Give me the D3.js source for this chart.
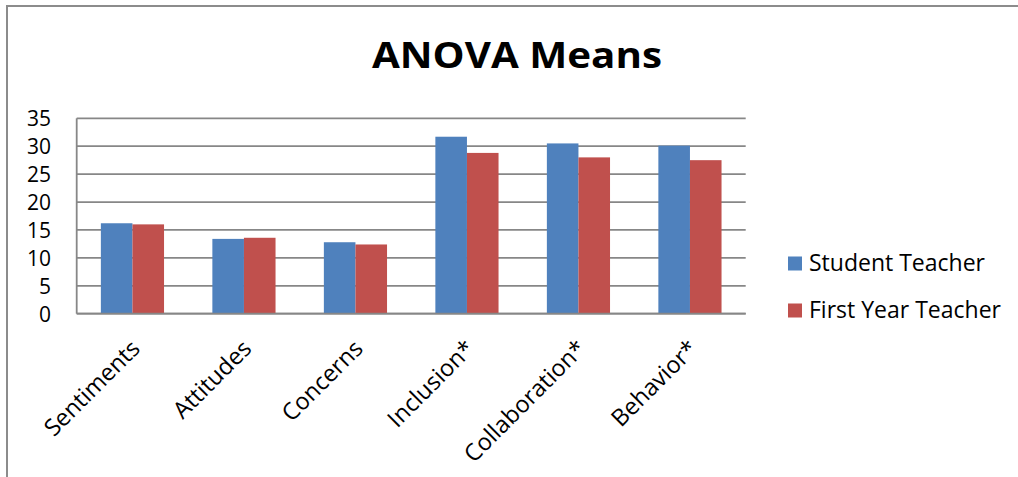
<!DOCTYPE html>
<html>
<head>
<meta charset="utf-8">
<script src="https://cdn.jsdelivr.net/npm/d3@7"></script>
<style>
  html, body { margin: 0; padding: 0; background: #fff; }
  svg { display: block; }
  text { font-family: "Open Sans", "Noto Sans", sans-serif; fill: #000; }
</style>
</head>
<body>
<svg id="chart" width="1018" height="477"></svg>
<script>
// Group means per scale
const categories = ["Sentiments", "Attitudes", "Concerns", "Inclusion*", "Collaboration*", "Behavior*"];
const seriesNames = ["Student Teacher", "First Year Teacher"];
const studentTeacher = [16.2, 13.4, 12.8, 31.7, 30.5, 30.1];
const firstYearTeacher = [16.0, 13.6, 12.4, 28.8, 28.0, 27.5];
const yTicks = [0, 5, 10, 15, 20, 25, 30, 35];
const colors = ["#4F81BD", "#C0504D"];

const series = [studentTeacher, firstYearTeacher];

const svg = d3.select("#chart");

// outer frame (runs off the right and bottom edges)
svg.append("path")
  .attr("d", "M7,480 L7,6 L1030,6")
  .attr("fill", "none")
  .attr("stroke", "#8c8c8c")
  .attr("stroke-width", 2);

// title
svg.append("text")
  .attr("x", 517)
  .attr("y", 68)
  .attr("text-anchor", "middle")
  .attr("font-size", 36)
  .attr("font-weight", 700)
  .attr("textLength", 290)
  .attr("lengthAdjust", "spacingAndGlyphs")
  .text("ANOVA Means");

const plot = { left: 76.7, right: 745.7, top: 118.3, bottom: 313.7 };

const x0 = d3.scaleBand()
  .domain(categories)
  .range([plot.left, plot.right])
  .padding(0);

const x1 = d3.scaleBand()
  .domain(seriesNames)
  .range([0, x0.bandwidth()])
  .paddingInner(0)
  .paddingOuter(0.765);

const y = d3.scaleLinear()
  .domain([0, 35])
  .range([plot.bottom, plot.top]);

const gridColor = "#878787";

// horizontal gridlines
svg.append("g")
  .selectAll("line")
  .data(yTicks)
  .join("line")
  .attr("x1", plot.left)
  .attr("x2", plot.right)
  .attr("y1", d => y(d))
  .attr("y2", d => y(d))
  .attr("stroke", gridColor)
  .attr("stroke-width", 1.8);

// y axis line
svg.append("line")
  .attr("x1", plot.left).attr("x2", plot.left)
  .attr("y1", y(35)).attr("y2", y(0))
  .attr("stroke", gridColor)
  .attr("stroke-width", 1.8);

// y tick labels
const yAxis = d3.axisLeft(y).tickValues(yTicks).tickSize(0).tickPadding(0);
const yg = svg.append("g")
  .attr("transform", `translate(51,0)`)
  .call(yAxis);
yg.select(".domain").remove();
yg.selectAll("text")
  .attr("font-size", 21)
  .attr("font-family", "'Open Sans', sans-serif")
  .attr("fill", "#000")
  .attr("dy", "0.36em");

// bars
const groups = svg.append("g")
  .selectAll("g")
  .data(categories)
  .join("g")
  .attr("transform", d => `translate(${x0(d)},0)`);

groups.selectAll("rect")
  .data((d, i) => seriesNames.map((s, j) => ({ s, v: series[j][i], j })))
  .join("rect")
  .attr("x", d => x1(d.s))
  .attr("y", d => y(d.v))
  .attr("width", x1.bandwidth())
  .attr("height", d => y(0) - y(d.v))
  .attr("fill", d => colors[d.j]);

// redraw baseline over bars
svg.append("line")
  .attr("x1", plot.left).attr("x2", plot.right)
  .attr("y1", y(0)).attr("y2", y(0))
  .attr("stroke", gridColor)
  .attr("stroke-width", 1.8);

// category labels, rotated
svg.append("g")
  .selectAll("text")
  .data(categories)
  .join("text")
  .attr("transform", d => `translate(${x0(d) + x0.bandwidth() / 2 + 9},350) rotate(-45)`)
  .attr("text-anchor", "end")
  .attr("font-size", 23.5)
  .text(d => d);

// legend
const legend = svg.append("g")
  .selectAll("g")
  .data(seriesNames)
  .join("g")
  .attr("transform", (d, i) => `translate(788,${256.5 + i * 47})`);

legend.append("rect")
  .attr("width", 14)
  .attr("height", 14)
  .attr("fill", (d, i) => colors[i]);

legend.append("text")
  .attr("x", 21)
  .attr("y", 14)
  .attr("font-size", 23)
  .text(d => d);
</script>
</body>
</html>
